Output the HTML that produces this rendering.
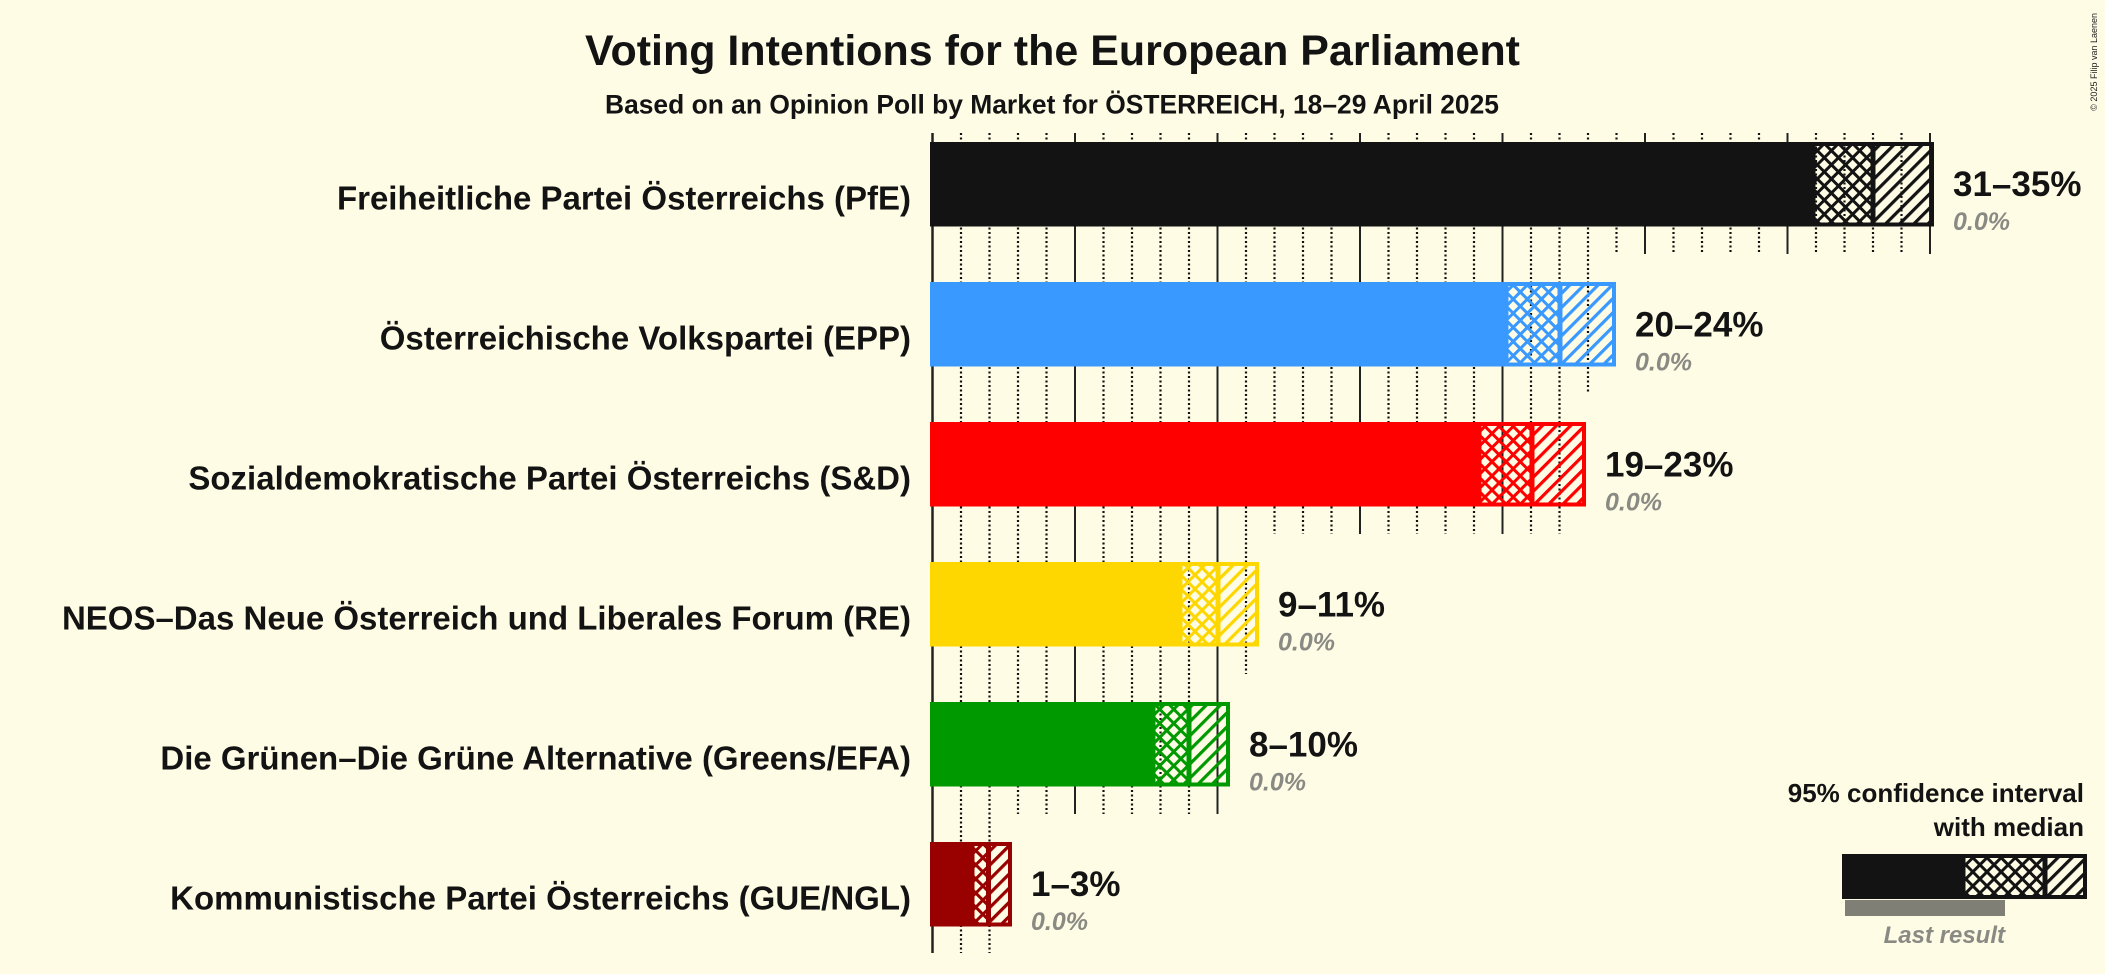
<!DOCTYPE html>
<html>
<head>
<meta charset="utf-8">
<style>
  html, body { margin:0; padding:0; background:#FFFCE5; }
  body { width:2105px; height:974px; overflow:hidden; }
  svg { display:block; }
  text { font-family: "Liberation Sans", "DejaVu Sans", sans-serif; }
</style>
</head>
<body>
<svg width="2105" height="974" viewBox="0 0 2105 974" xmlns="http://www.w3.org/2000/svg">
  <defs>
    <pattern id="cx-k" patternUnits="userSpaceOnUse" width="10" height="10" patternTransform="rotate(45)">
      <rect x="0" y="0" width="3" height="10" fill="#131313"/><rect x="0" y="0" width="10" height="3" fill="#131313"/>
    </pattern>
    <pattern id="dg-k" patternUnits="userSpaceOnUse" width="10" height="10" patternTransform="rotate(45)">
      <rect x="0" y="0" width="3.2" height="10" fill="#131313"/>
    </pattern>
    <pattern id="cx-b" patternUnits="userSpaceOnUse" width="10" height="10" patternTransform="rotate(45)">
      <rect x="0" y="0" width="3" height="10" fill="#3999FF"/><rect x="0" y="0" width="10" height="3" fill="#3999FF"/>
    </pattern>
    <pattern id="dg-b" patternUnits="userSpaceOnUse" width="10" height="10" patternTransform="rotate(45)">
      <rect x="0" y="0" width="3.2" height="10" fill="#3999FF"/>
    </pattern>
    <pattern id="cx-r" patternUnits="userSpaceOnUse" width="10" height="10" patternTransform="rotate(45)">
      <rect x="0" y="0" width="3" height="10" fill="#FF0000"/><rect x="0" y="0" width="10" height="3" fill="#FF0000"/>
    </pattern>
    <pattern id="dg-r" patternUnits="userSpaceOnUse" width="10" height="10" patternTransform="rotate(45)">
      <rect x="0" y="0" width="3.2" height="10" fill="#FF0000"/>
    </pattern>
    <pattern id="cx-y" patternUnits="userSpaceOnUse" width="10" height="10" patternTransform="rotate(45)">
      <rect x="0" y="0" width="3" height="10" fill="#FFD700"/><rect x="0" y="0" width="10" height="3" fill="#FFD700"/>
    </pattern>
    <pattern id="dg-y" patternUnits="userSpaceOnUse" width="10" height="10" patternTransform="rotate(45)">
      <rect x="0" y="0" width="3.2" height="10" fill="#FFD700"/>
    </pattern>
    <pattern id="cx-g" patternUnits="userSpaceOnUse" width="10" height="10" patternTransform="rotate(45)">
      <rect x="0" y="0" width="3" height="10" fill="#009900"/><rect x="0" y="0" width="10" height="3" fill="#009900"/>
    </pattern>
    <pattern id="dg-g" patternUnits="userSpaceOnUse" width="10" height="10" patternTransform="rotate(45)">
      <rect x="0" y="0" width="3.2" height="10" fill="#009900"/>
    </pattern>
    <pattern id="cx-d" patternUnits="userSpaceOnUse" width="10" height="10" patternTransform="rotate(45)">
      <rect x="0" y="0" width="3" height="10" fill="#990000"/><rect x="0" y="0" width="10" height="3" fill="#990000"/>
    </pattern>
    <pattern id="dg-d" patternUnits="userSpaceOnUse" width="10" height="10" patternTransform="rotate(45)">
      <rect x="0" y="0" width="3.2" height="10" fill="#990000"/>
    </pattern>
  </defs>

  <rect x="0" y="0" width="2105" height="974" fill="#FFFCE5"/>

  <!-- Title -->
  <text x="585" y="65" font-size="43" font-weight="bold" fill="#131313" textLength="935" lengthAdjust="spacingAndGlyphs">Voting Intentions for the European Parliament</text>
  <text x="605" y="113.5" font-size="26.5" font-weight="bold" fill="#131313" textLength="894" lengthAdjust="spacingAndGlyphs">Based on an Opinion Poll by Market for ÖSTERREICH, 18–29 April 2025</text>

  <!-- copyright -->
  <text transform="translate(2097,13) rotate(-90)" text-anchor="end" font-size="9" fill="#222">© 2025 Filip van Laenen</text>

  <!-- Grid ticks: dotted -->
  <path fill="none" stroke="#111" stroke-width="2.2" stroke-dasharray="2 2.5"
    d="M961 133V953M989.5 133V953
       M1018 133V814M1046.5 133V814M1103.5 133V814M1132 133V814M1160.5 133V814M1189 133V814
       M1246 133V674
       M1274.5 133V534M1303 133V534M1331.5 133V534M1388.5 133V534M1417 133V534M1445.5 133V534M1474 133V534M1531 133V534M1559.5 133V534
       M1588 133V394
       M1616.5 133V254M1673.5 133V254M1702 133V254M1730.5 133V254M1759 133V254M1816 133V254M1844.5 133V254M1873 133V254M1901.5 133V254"/>
  <!-- Grid ticks: solid majors -->
  <path fill="none" stroke="#222" stroke-width="2"
    d="M1075 133V814M1217.5 133V814
       M1360 133V534M1502.5 133V534
       M1645 133V254M1787.5 133V254M1930 133V254"/>
  <!-- axis -->
  <path fill="none" stroke="#222" stroke-width="2.5" d="M932.5 133V953"/>

  <!-- FPÖ -->
  <g>
    <rect x="930" y="142" width="885.5" height="84.5" fill="#131313"/>
    <rect x="1815" y="146" width="55.5" height="76.5" fill="url(#cx-k)"/>
    <rect x="1875.5" y="146" width="54.5" height="76.5" fill="url(#dg-k)"/>
    <rect x="1815" y="142" width="119" height="4" fill="#131313"/>
    <rect x="1815" y="222.5" width="119" height="4" fill="#131313"/>
    <rect x="1930" y="142" width="4" height="84.5" fill="#131313"/>
    <rect x="1870.5" y="142" width="5" height="84.5" fill="#131313"/>
  </g>
  <!-- ÖVP -->
  <g>
    <rect x="930" y="282" width="578.5" height="84.5" fill="#3999FF"/>
    <rect x="1508" y="286" width="49.5" height="76.5" fill="url(#cx-b)"/>
    <rect x="1562.5" y="286" width="49.5" height="76.5" fill="url(#dg-b)"/>
    <rect x="1508" y="282" width="108" height="4" fill="#3999FF"/>
    <rect x="1508" y="362.5" width="108" height="4" fill="#3999FF"/>
    <rect x="1612" y="282" width="4" height="84.5" fill="#3999FF"/>
    <rect x="1557.5" y="282" width="5" height="84.5" fill="#3999FF"/>
  </g>
  <!-- SPÖ -->
  <g>
    <rect x="930" y="422" width="551.5" height="84.5" fill="#FF0000"/>
    <rect x="1481" y="426" width="48.5" height="76.5" fill="url(#cx-r)"/>
    <rect x="1534.5" y="426" width="47.5" height="76.5" fill="url(#dg-r)"/>
    <rect x="1481" y="422" width="105" height="4" fill="#FF0000"/>
    <rect x="1481" y="502.5" width="105" height="4" fill="#FF0000"/>
    <rect x="1582" y="422" width="4" height="84.5" fill="#FF0000"/>
    <rect x="1529.5" y="422" width="5" height="84.5" fill="#FF0000"/>
  </g>
  <!-- NEOS -->
  <g>
    <rect x="930" y="562" width="252.5" height="84.5" fill="#FFD700"/>
    <rect x="1182" y="566" width="33.5" height="76.5" fill="url(#cx-y)"/>
    <rect x="1220.5" y="566" width="34.5" height="76.5" fill="url(#dg-y)"/>
    <rect x="1182" y="562" width="77" height="4" fill="#FFD700"/>
    <rect x="1182" y="642.5" width="77" height="4" fill="#FFD700"/>
    <rect x="1255" y="562" width="4" height="84.5" fill="#FFD700"/>
    <rect x="1215.5" y="562" width="5" height="84.5" fill="#FFD700"/>
  </g>
  <!-- Grüne -->
  <g>
    <rect x="930" y="702" width="225.5" height="84.5" fill="#009900"/>
    <rect x="1155" y="706" width="31.5" height="76.5" fill="url(#cx-g)"/>
    <rect x="1191.5" y="706" width="34.5" height="76.5" fill="url(#dg-g)"/>
    <rect x="1155" y="702" width="75" height="4" fill="#009900"/>
    <rect x="1155" y="782.5" width="75" height="4" fill="#009900"/>
    <rect x="1226" y="702" width="4" height="84.5" fill="#009900"/>
    <rect x="1186.5" y="702" width="5" height="84.5" fill="#009900"/>
  </g>
  <!-- KPÖ -->
  <g>
    <rect x="930" y="842" width="44.5" height="84.5" fill="#990000"/>
    <rect x="974" y="846" width="12" height="76.5" fill="url(#cx-d)"/>
    <rect x="991" y="846" width="17" height="76.5" fill="url(#dg-d)"/>
    <rect x="974" y="842" width="38" height="4" fill="#990000"/>
    <rect x="974" y="922.5" width="38" height="4" fill="#990000"/>
    <rect x="1008" y="842" width="4" height="84.5" fill="#990000"/>
    <rect x="986" y="842" width="5" height="84.5" fill="#990000"/>
  </g>

  <!-- Party labels -->
  <g font-size="33" font-weight="bold" fill="#131313" text-anchor="end">
    <text x="911" y="209.3">Freiheitliche Partei Österreichs (PfE)</text>
    <text x="911" y="349.5">Österreichische Volkspartei (EPP)</text>
    <text x="911" y="489.5">Sozialdemokratische Partei Österreichs (S&amp;D)</text>
    <text x="911" y="629.5">NEOS–Das Neue Österreich und Liberales Forum (RE)</text>
    <text x="911" y="769.5">Die Grünen–Die Grüne Alternative (Greens/EFA)</text>
    <text x="911" y="909.5">Kommunistische Partei Österreichs (GUE/NGL)</text>
  </g>

  <!-- Value labels -->
  <g font-size="35" font-weight="bold" fill="#131313">
    <text x="1953" y="196">31–35%</text>
    <text x="1635" y="336.5">20–24%</text>
    <text x="1605" y="476.5">19–23%</text>
    <text x="1278" y="616.5">9–11%</text>
    <text x="1249" y="756.5">8–10%</text>
    <text x="1031" y="896">1–3%</text>
  </g>
  <g font-size="25" font-style="italic" font-weight="bold" fill="#8a8a84">
    <text x="1953" y="230">0.0%</text>
    <text x="1635" y="370.5">0.0%</text>
    <text x="1605" y="510.5">0.0%</text>
    <text x="1278" y="650.5">0.0%</text>
    <text x="1249" y="790.5">0.0%</text>
    <text x="1031" y="930">0.0%</text>
  </g>

  <!-- Legend -->
  <g font-size="26" font-weight="bold" fill="#131313" text-anchor="end">
    <text x="2084" y="802">95% confidence interval</text>
    <text x="2084" y="836">with median</text>
  </g>
  <g>
    <rect x="1842" y="854" width="123.5" height="45" fill="#131313"/>
    <rect x="1965" y="858" width="77.5" height="37" fill="url(#cx-k)"/>
    <rect x="2047.5" y="858" width="35.5" height="37" fill="url(#dg-k)"/>
    <rect x="1965" y="854" width="122" height="4" fill="#131313"/>
    <rect x="1965" y="895" width="122" height="4" fill="#131313"/>
    <rect x="2083" y="854" width="4" height="45" fill="#131313"/>
    <rect x="2042.5" y="854" width="5" height="45" fill="#131313"/>
    <rect x="1845" y="900" width="160" height="16" fill="#807f76"/>
  </g>
  <text x="2005" y="943" font-size="24" font-style="italic" font-weight="bold" fill="#8a8a84" text-anchor="end">Last result</text>
</svg>
</body>
</html>
